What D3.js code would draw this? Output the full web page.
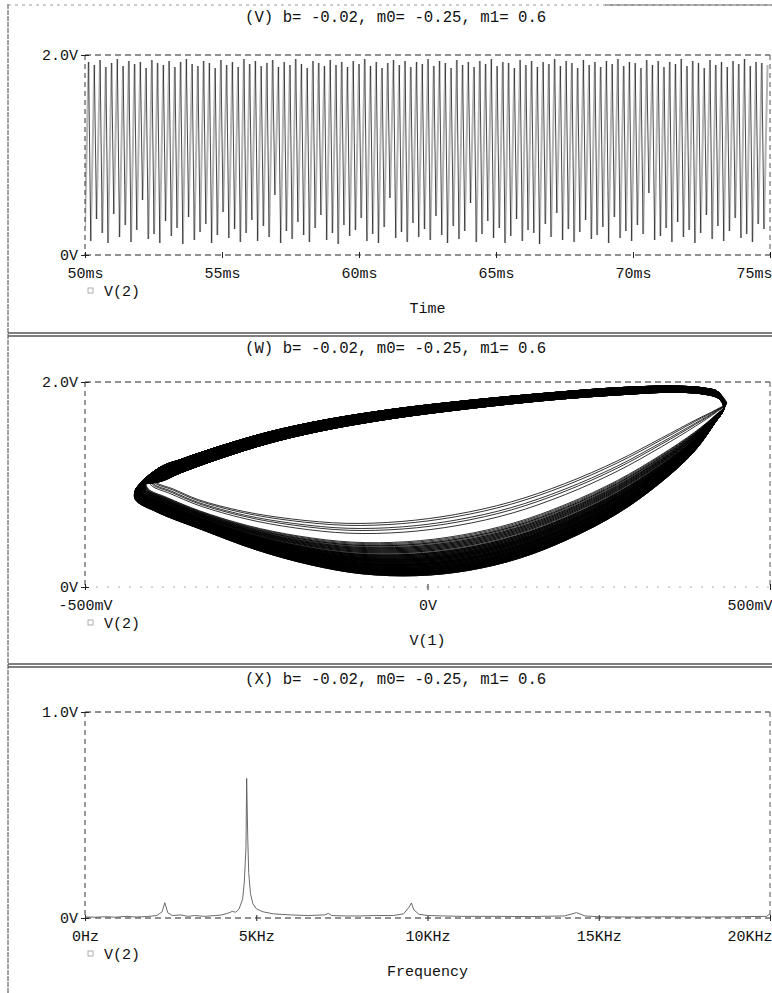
<!DOCTYPE html>
<html><head><meta charset="utf-8">
<script src="https://cdn.jsdelivr.net/npm/d3@7"></script>
<style>
body{margin:0;background:#fff}
svg text{font-family:"Liberation Mono","DejaVu Sans Mono",monospace;fill:#111;font-size:15px}
svg text.ttl{font-size:15.7px}
</style></head><body>
<svg id="chart" width="772" height="993"></svg>
<script>
// ---- parameters shown in every panel title ----
const paramTitle = "b= -0.02, m0= -0.25, m1= 0.6";
const panelTags = ["(V)", "(W)", "(X)"];
const traceName = "V(2)";

// ---- panel V: transient of V(2) ----
const timeTicksMs = [50, 55, 60, 65, 70, 75];
const timeTickLabels = ["50ms", "55ms", "60ms", "65ms", "70ms", "75ms"];
const timeYTicks = [0, 2];
const timeYLabels = ["0V", "2.0V"];
const cyclePeriodMs = 0.21;
const cycleTroughsV = [
  0.28,0.14,0.36,0.22,0.12,0.41,0.18,0.30,0.13,0.25,
  0.55,0.16,0.21,0.12,0.34,0.19,0.27,0.11,0.38,0.15,
  0.23,0.31,0.12,0.20,0.43,0.17,0.26,0.13,0.22,0.35,
  0.14,0.29,0.18,0.60,0.12,0.24,0.16,0.33,0.20,0.13,
  0.27,0.40,0.15,0.22,0.11,0.30,0.19,0.25,0.37,0.14,
  0.21,0.12,0.28,0.57,0.17,0.23,0.13,0.32,0.18,0.26,
  0.15,0.39,0.20,0.12,0.29,0.16,0.24,0.52,0.13,0.21,
  0.34,0.17,0.27,0.12,0.19,0.36,0.14,0.25,0.22,0.11,
  0.31,0.18,0.42,0.15,0.26,0.13,0.23,0.35,0.16,0.20,
  0.28,0.12,0.38,0.17,0.24,0.14,0.30,0.21,0.62,0.15,
  0.19,0.27,0.13,0.33,0.18,0.25,0.12,0.22,0.40,0.16,
  0.29,0.14,0.24,0.37,0.17,0.21,0.13,0.31,0.26
];
const cyclePeaksV = [
  1.93,1.90,1.95,1.88,1.92,1.96,1.89,1.94,1.91,1.93,
  1.87,1.95,1.92,1.90,1.94,1.88,1.93,1.96,1.91,1.89,
  1.94,1.92,1.87,1.95,1.90,1.93,1.88,1.96,1.91,1.94,
  1.89,1.92,1.95,1.88,1.93,1.90,1.96,1.91,1.87,1.94,
  1.92,1.89,1.95,1.90,1.93,1.88,1.94,1.91,1.96,1.89,
  1.93,1.87,1.92,1.95,1.90,1.94,1.88,1.93,1.91,1.96,
  1.89,1.94,1.92,1.87,1.95,1.90,1.93,1.88,1.94,1.91,
  1.96,1.89,1.93,1.92,1.87,1.95,1.90,1.94,1.88,1.93,
  1.91,1.96,1.89,1.94,1.92,1.87,1.95,1.90,1.93,1.88,
  1.94,1.91,1.96,1.89,1.93,1.92,1.87,1.95,1.90,1.94,
  1.88,1.93,1.91,1.96,1.89,1.94,1.92,1.87,1.95,1.90,
  1.93,1.88,1.94,1.91,1.96,1.89,1.93,1.92,1.90
];

// ---- panel W: V(2) against V(1) ----
const v1Ticks = [-500, 0, 500];
const v1TickLabels = ["-500mV", "0V", "500mV"];
const phaseYTicks = [0, 2];
const phaseYLabels = ["0V", "2.0V"];
// outgoing branch (mV, V), left to right, and its spread across cycles
const topBand = [[-390,1.10],[-360,1.18],[-300,1.32],[-230,1.46],[-150,1.58],[-50,1.69],
                 [60,1.78],[180,1.86],[280,1.91],[360,1.93],[405,1.91],[425,1.87]];
const topBandSpread = [0.14,0.13,0.12,0.11,0.10,0.09,0.08,0.07,0.07,0.06,0.06,0.06];
// return branch, right to left: deepest and shallowest excursions
const returnDeep = [[432,1.74],[418,1.58],[388,1.30],[338,0.99],[278,0.70],[207,0.45],[135,0.26],[60,0.14],
                    [-15,0.09],[-95,0.11],[-170,0.20],[-250,0.35],[-330,0.55],[-395,0.72],[-428,0.85],[-425,0.97]];
const returnShallow = [[437,1.80],[422,1.74],[392,1.65],[342,1.48],[277,1.26],[200,1.04],[120,0.86],[40,0.74],
                       [-40,0.67],[-120,0.65],[-200,0.69],[-270,0.76],[-335,0.87],[-370,0.97],[-395,1.03],[-402,1.08]];

// ---- panel X: spectrum of V(2) ----
const freqTicks = [0, 5, 10, 15, 20];
const freqTickLabels = ["0Hz", "5KHz", "10KHz", "15KHz", "20KHz"];
const fftYTicks = [0, 1];
const fftYLabels = ["0V", "1.0V"];
const freqKHz = [0,0.3,0.6,0.9,1.2,1.5,1.8,2.1,2.25,2.33,2.42,2.55,2.8,3.0,3.2,3.5,3.8,4.0,4.2,4.3,4.4,4.5,4.6,4.65,4.7,4.72,4.75,4.78,4.83,4.9,5.0,5.2,5.5,6.0,6.5,7.0,7.1,7.2,7.6,8.0,8.5,9.0,9.3,9.45,9.53,9.6,9.75,10,10.5,11,12,13,14,14.35,14.6,15,16,17,18,19,19.9,20];
const ampV =   [0.005,0.004,0.006,0.004,0.008,0.005,0.007,0.012,0.03,0.074,0.025,0.012,0.015,0.008,0.012,0.008,0.012,0.015,0.025,0.032,0.028,0.045,0.09,0.17,0.34,0.678,0.40,0.22,0.12,0.07,0.045,0.03,0.02,0.015,0.012,0.015,0.022,0.012,0.01,0.01,0.012,0.012,0.02,0.05,0.073,0.04,0.018,0.012,0.01,0.008,0.008,0.007,0.01,0.026,0.01,0.006,0.005,0.006,0.005,0.006,0.008,0.02];

// ---- layout ----
const svg = d3.select("#chart");
const X0 = 85, X1 = 770;
const panels = [
  {top: 5,   bottom: 333, y0: 255, y1: 55},
  {top: 336, bottom: 664, y0: 587, y1: 382},
  {top: 667, bottom: 1000, y0: 918, y1: 712}
];

// panel frames
svg.append("line").attr("x1", 8).attr("x2", 8).attr("y1", 4).attr("y2", 993)
  .attr("stroke", "#444").attr("stroke-width", 1).attr("stroke-dasharray", "5,1");
panels.forEach((p, i) => {
  svg.append("line").attr("x1", 8).attr("x2", 772).attr("y1", p.top).attr("y2", p.top)
    .attr("stroke", i === 0 ? "#999" : "#555").attr("stroke-width", i === 0 ? 1 : 1.6)
    .attr("stroke-dasharray", i === 0 ? "3,4" : null);
  if (p.bottom < 993) {
    svg.append("line").attr("x1", 8).attr("x2", 772).attr("y1", p.bottom).attr("y2", p.bottom)
      .attr("stroke", "#555").attr("stroke-width", 1.6);
  }
});
svg.append("line").attr("x1", 605).attr("x2", 772).attr("y1", 5).attr("y2", 5)
  .attr("stroke", "#666").attr("stroke-width", 1.2);

function frame(p, idx, xScale, yScale, xt, xl, yt, yl, axisTitle, bottomDotted) {
  const g = svg.append("g");
  g.append("text").attr("class", "ttl").attr("x", 245).attr("y", p.top + 17).text(panelTags[idx] + " " + paramTitle);
  // dashed plot frame
  const dash = "6,4";
  g.append("line").attr("x1", X0).attr("x2", X1).attr("y1", p.y1).attr("y2", p.y1)
    .attr("stroke", "#222").attr("stroke-dasharray", dash);
  g.append("line").attr("x1", X0).attr("x2", X1).attr("y1", p.y0).attr("y2", p.y0)
    .attr("stroke", bottomDotted ? "#aaa" : "#222").attr("stroke-dasharray", bottomDotted ? "2,9" : dash);
  g.append("line").attr("x1", X0).attr("x2", X0).attr("y1", p.y1).attr("y2", p.y0)
    .attr("stroke", "#333").attr("stroke-dasharray", "5,4");
  g.append("line").attr("x1", X1).attr("x2", X1).attr("y1", p.y1).attr("y2", p.y0)
    .attr("stroke", "#555").attr("stroke-dasharray", "5,4");

  // x axis ticks and labels
  const ax = d3.axisBottom(xScale).tickValues(xt).tickFormat((d, i) => xl[i]).tickSize(3).tickPadding(9.5);
  const gx = g.append("g").attr("transform", `translate(0,${p.y0})`).call(ax);
  gx.select(".domain").remove();
  gx.selectAll(".tick line").attr("stroke", "#222").attr("y1", -3);
  gx.selectAll(".tick text").attr("fill", "#111").style("font-size", "15px").attr("font-family", null);
  gx.selectAll(".tick").filter((d, i) => i === xt.length - 1).select("text")
    .attr("text-anchor", "end").attr("x", 772 - X1);

  // y axis ticks and labels
  const ay = d3.axisLeft(yScale).tickValues(yt).tickFormat((d, i) => yl[i]).tickSize(4).tickPadding(3);
  const gy = g.append("g").attr("transform", `translate(${X0},0)`).call(ay);
  gy.select(".domain").remove();
  gy.selectAll(".tick line").attr("stroke", "#222").attr("x2", 4).attr("x1", -4);
  gy.selectAll(".tick text").attr("fill", "#111").style("font-size", "15px").attr("font-family", null);

  // legend
  g.append("rect").attr("x", 88).attr("y", p.y0 + 33).attr("width", 5).attr("height", 5)
    .attr("fill", "none").attr("stroke", "#999").attr("stroke-width", 0.8);
  g.append("text").attr("x", 104).attr("y", p.y0 + 41).text(traceName);
  g.append("text").attr("x", (X0 + X1) / 2).attr("y", p.y0 + 58).attr("text-anchor", "middle").text(axisTitle);
  return g;
}

// ---- panel V ----
{
  const p = panels[0];
  const x = d3.scaleLinear().domain([50, 75]).range([X0, X1]);
  const y = d3.scaleLinear().domain([0, 2]).range([p.y0, p.y1]);
  const line = d3.line().x(d => x(d[0])).y(d => y(d[1]));
  const rises = [], falls = [];
  cycleTroughsV.forEach((m, i) => {
    const t0 = 50 + i * cyclePeriodMs;
    const tp = t0 + 0.62 * cyclePeriodMs;
    rises.push([[t0, m], [tp, cyclePeaksV[i]]]);
    if (i + 1 < cycleTroughsV.length) falls.push([[tp, cyclePeaksV[i]], [t0 + cyclePeriodMs, cycleTroughsV[i + 1]]]);
  });
  svg.append("clipPath").attr("id", "clipV").append("rect")
    .attr("x", X0).attr("y", p.y1 - 5).attr("width", 772 - X0).attr("height", p.y0 - p.y1 + 5);
  const g = svg.append("g").attr("clip-path", "url(#clipV)");
  g.selectAll("path.rise").data(rises).join("path").attr("class", "rise")
    .attr("fill", "none").attr("stroke", "#b4b4b4").attr("stroke-width", 2).attr("d", line);
  g.selectAll("path.fall").data(falls).join("path").attr("class", "fall")
    .attr("fill", "none").attr("stroke", "#1a1a1a").attr("stroke-width", 0.8).attr("d", line);
  frame(p, 0, x, y, timeTicksMs, timeTickLabels, timeYTicks, timeYLabels, "Time", false);
}

// ---- panel W ----
{
  const p = panels[1];
  const x = d3.scaleLinear().domain([-500, 500]).range([X0, X1]);
  const y = d3.scaleLinear().domain([0, 2]).range([p.y0, p.y1]);
  const mDeep = d3.min(returnDeep, d => d[1]);
  const mShallow = d3.min(returnShallow, d => d[1]);
  const [pLo, pHi] = d3.extent(cyclePeaksV);
  const loop = d3.line().x(d => x(d[0])).y(d => y(d[1])).curve(d3.curveCatmullRomClosed);
  const g = svg.append("g");
  cycleTroughsV.forEach((m, i) => {
    const t = Math.max(0, Math.min(1, (mShallow - m) / (mShallow - mDeep)));
    const off = (cyclePeaksV[i] - (pLo + pHi) / 2) / (pHi - pLo);
    const top = topBand.map((d, j) => [d[0], d[1] + off * topBandSpread[j]]);
    const ret = returnDeep.map((d, j) => {
      const s = returnShallow[j];
      return [s[0] + (d[0] - s[0]) * t, s[1] + (d[1] - s[1]) * t];
    });
    g.append("path").datum(top.concat(ret))
      .attr("fill", "none").attr("stroke", "#000").attr("stroke-width", 0.8)
      .attr("d", loop);
  });
  frame(p, 1, x, y, v1Ticks, v1TickLabels, phaseYTicks, phaseYLabels, "V(1)", true);
}

// ---- panel X ----
{
  const p = panels[2];
  const x = d3.scaleLinear().domain([0, 20]).range([X0, X1]);
  const y = d3.scaleLinear().domain([0, 1]).range([p.y0, p.y1]);
  frame(p, 2, x, y, freqTicks, freqTickLabels, fftYTicks, fftYLabels, "Frequency", false);
  svg.append("path").datum(freqKHz.map((f, i) => [f, ampV[i]]))
    .attr("fill", "none").attr("stroke", "#5a5a5a").attr("stroke-width", 0.9)
    .attr("d", d3.line().x(d => x(d[0])).y(d => y(d[1])));
}
</script>
</body></html>
